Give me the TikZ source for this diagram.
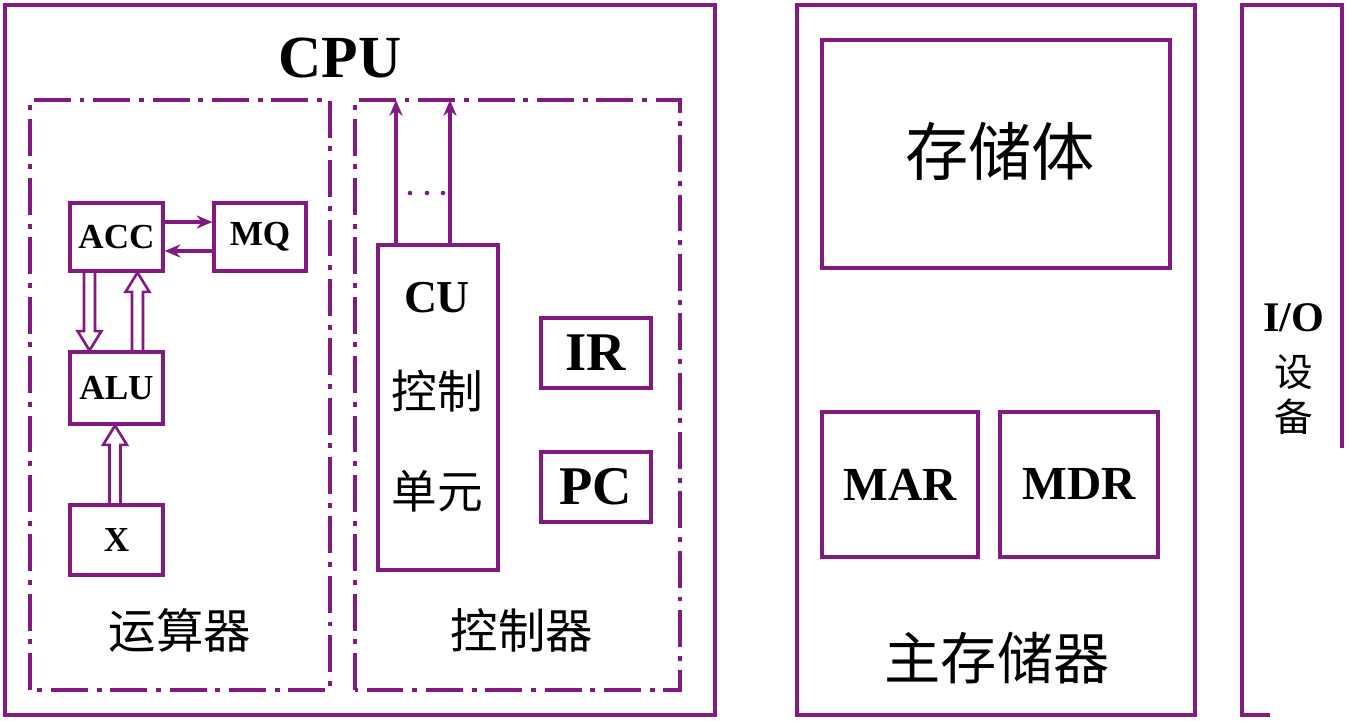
\documentclass[tikz,border=0pt]{standalone}
\usepackage{fontspec}
\setmainfont{Liberation Serif}
\newfontfamily\cjk{Noto Sans CJK SC}
\usetikzlibrary{arrows.meta,calc}
\definecolor{pur}{HTML}{821A82}

\tikzset{
  frame/.style={draw=pur,line width=2.4pt,line join=miter},
  box/.style={draw=pur,line width=1.8pt,inner sep=0pt},
  dashdot/.style={draw=pur,line width=2.4pt,dash pattern=on 21pt off 5pt on 2.8pt off 5pt},
  lat/.style={font=\bfseries\fontsize{#1}{#1}\selectfont,inner sep=0pt},
  han/.style={font=\cjk\fontsize{#1}{#1}\selectfont,inner sep=0pt},
  link/.style={draw=pur,line width=2.3pt,-{Stealth[length=9pt,width=7.5pt]}},
  hollow/.style={draw=pur,line width=1.5pt,line join=miter}
}
% wide open arrow between two points (vertical)
\newcommand\fatarrow[2]{%
  \draw[hollow] let \p1=(#1),\p2=(#2),\n1={ifthenelse(\y2>\y1,1,-1)} in
    (\x1-3.1pt,\y1) -- (\x1-3.1pt,\y2-\n1*11pt) -- (\x1-6.8pt,\y2-\n1*11pt)
    -- (\x1,\y2) -- (\x1+6.8pt,\y2-\n1*11pt) -- (\x1+3.1pt,\y2-\n1*11pt)
    -- (\x1+3.1pt,\y1);}

\begin{document}
\begin{tikzpicture}[x=0.02cm,y=-0.02cm]
  \useasboundingbox (0,0) rectangle (1348,720);
  % outer frames
  \draw[frame] (5,5) rectangle (715,715);
  \draw[frame] (797,5) rectangle (1195,715);
  \draw[frame] (1270,715) -- (1242,715) -- (1242,5) -- (1342,5) -- (1342,448);
  \draw[dashdot] (30,690) rectangle (330,100);
  \draw[dashdot] (355,690) rectangle (680,100);

  \node[lat=34] (cpu) at (340,58) {CPU};

  % arithmetic unit
  \node[box,lat=20,minimum width=1.86cm,minimum height=1.36cm] (acc) at (116.5,237) {ACC};
  \node[box,lat=20,minimum width=1.84cm,minimum height=1.36cm] (mq) at (260,237) {MQ};
  \node[box,lat=20,minimum width=1.86cm,minimum height=1.44cm] (alu) at (116.5,388) {ALU};
  \node[box,lat=20,minimum width=1.86cm,minimum height=1.40cm] (x) at (116.5,540) {X};
  \draw[link] ([yshift=0.3cm]acc.east) -- ([yshift=0.3cm]mq.west);
  \draw[link] ([yshift=-0.28cm]mq.west) -- ([yshift=-0.28cm]acc.east);
  \fatarrow{[xshift=-0.54cm]acc.south}{alu.north}
  \fatarrow{[xshift=0.42cm]alu.north}{acc.south}
  \fatarrow{[xshift=-0.03cm]x.north}{alu.south}
  \node[han=27] (ysq) at (180,630) {运算器};

  % control unit
  \node[box,minimum width=2.4cm,minimum height=6.5cm] (cu) at (438,407.5) {};
  \node[lat=26] (cut) at (437,298) {CU};
  \node[han=26] (kz) at (437,391) {控制};
  \node[han=26] (dy) at (437,491) {单元};
  \coordinate (o1) at (396,100);
  \coordinate (o2) at (450,100);
  \draw[link] (cu.north -| o1) -- (o1);
  \draw[link] (cu.north -| o2) -- (o2);
  \foreach \dx in {410,427,443} \fill[pur] (\dx,193) circle (1.3pt);
  \node[box,lat=31,minimum width=2.2cm,minimum height=1.4cm] (ir) at (596,353) {IR};
  \node[box,lat=31,minimum width=2.2cm,minimum height=1.4cm] (pc) at (596,487) {PC};
  \node[han=27] (kzq) at (522,630) {控制器};

  % main memory
  \node[box,minimum width=6.96cm,minimum height=4.56cm] (ccb) at (996,154) {};
  \node[han=36] (ccbt) at (1000,151) {存储体};
  \node[box,lat=27,minimum width=3.12cm,minimum height=2.9cm] (mar) at (900,484.5) {MAR};
  \node[box,lat=27,minimum width=3.16cm,minimum height=2.9cm] (mdr) at (1079,484.5) {MDR};
  \node[han=32] (zcc) at (997,658) {主存储器};

  % io
  \node[lat=24] (io) at (1294,318) {I/O};
  \node[han=22] (io1) at (1294,372) {设};
  \node[han=22] (io2) at (1294,417) {备};
\end{tikzpicture}
\end{document}
